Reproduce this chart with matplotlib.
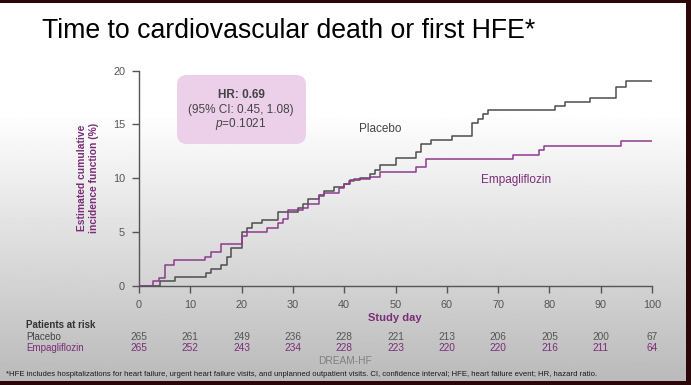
import numpy as np
import matplotlib.pyplot as plt
from matplotlib.patches import FancyBboxPatch
from matplotlib.transforms import IdentityTransform, blended_transform_factory

plt.rcParams['font.family'] = ['Liberation Sans', 'DejaVu Sans']
plt.rcParams['mathtext.fontset'] = 'custom'
plt.rcParams['mathtext.rm'] = 'Liberation Sans'
plt.rcParams['mathtext.it'] = 'Liberation Sans:italic'

# Step data (study day, cumulative incidence %)
placebo_days = [0, 4.1, 7, 13, 14, 16, 17.2, 18, 20, 21, 22, 24, 27, 31, 32, 33, 35, 36, 38,
                40, 41.2, 43, 45, 46, 47, 50, 54, 55, 57, 61, 65, 66, 67, 68, 81, 83, 88, 93, 95, 100]
placebo_vals = [0, 0.4, 0.8, 1.15, 1.6, 1.95, 2.67, 3.5, 5.0, 5.4, 5.8, 6.1, 6.9, 7.2, 7.6, 8.05, 8.4, 8.8, 9.2,
                9.5, 9.8, 10.0, 10.4, 10.8, 11.2, 11.9, 12.4, 13.2, 13.55, 13.95, 15.1, 15.5, 16.0, 16.3,
                16.7, 17.1, 17.5, 18.5, 19.0, 19.0]

empa_days = [0, 2.8, 3.9, 5, 6.9, 12.8, 14, 16, 20, 21, 25, 27, 28, 29, 32, 33, 35, 36, 39, 40,
             41, 42, 45, 47, 54, 56, 73, 78, 79, 94, 100]
empa_vals = [0, 0.4, 0.71, 1.9, 2.36, 2.67, 3.1, 3.9, 4.65, 5.0, 5.4, 5.86, 6.2, 7.0, 7.2, 7.6, 8.3, 8.6, 9.05, 9.5,
             9.7, 9.9, 10.1, 10.6, 11.0, 11.8, 12.2, 12.6, 13.0, 13.5, 13.5]

# Patients at risk table
risk_days = [0, 10, 20, 30, 40, 50, 60, 70, 80, 90, 100]
risk_placebo = [265, 261, 249, 236, 228, 221, 213, 206, 205, 200, 67]
risk_empa = [265, 252, 243, 234, 228, 223, 220, 220, 216, 211, 64]

W, H = 691, 385
gray = '#4d4d4d'
purple = '#8e3b8e'
purple_txt = '#7b2d78'
tick_col = '#555555'

fig = plt.figure(figsize=(W / 100, H / 100), dpi=100, facecolor='#2b0709')

# slide background with gradient
bg = fig.add_axes([0, 4 / H, 686 / W, 378 / H])
bg.set_axis_off()
ys = np.linspace(0, 378, 400)
shade = np.where(ys < 110, 1.0, 1.0 - (ys - 110) / (378 - 110) * 0.27)
bg.imshow(shade[:, None], cmap='gray', vmin=0, vmax=1, aspect='auto', extent=[0, 1, 0, 1])

def px(x, y):
    return x / W, 1 - y / H

# main axes
ax = fig.add_axes([139 / W, 1 - 285.7 / H, (652 - 139) / W, (285.7 - 70.7) / H])
ax.patch.set_alpha(0)
ax.step(placebo_days, placebo_vals, where='post', color=gray, lw=1.1, zorder=3)
ax.step(empa_days, empa_vals, where='post', color=purple, lw=1.1, zorder=4)
ax.set_xlim(0, 100)
ax.set_ylim(0, 20)
ax.set_xticks(risk_days)
ax.set_yticks([0, 5, 10, 15, 20])
for s in ['top', 'right']:
    ax.spines[s].set_visible(False)
for s in ['left', 'bottom']:
    ax.spines[s].set_color(tick_col)
    ax.spines[s].set_linewidth(1.0)
ax.tick_params(colors=tick_col, labelsize=7.8, length=5, width=1.0, pad=5)

ax.text(47, 14.6, 'Placebo', color='#444444', fontsize=8.5, ha='center', va='center')
ax.text(73.5, 9.8, 'Empagliflozin', color=purple_txt, fontsize=8.5, ha='center', va='center')

# HR box
box = FancyBboxPatch((177, H - 144), 129, 69, boxstyle='round,pad=0,rounding_size=10',
                     transform=IdentityTransform(), fc='#ecd0ea', ec='none', zorder=1)
fig.patches.append(box)
fig.text(*px(241, 95), 'HR: 0.69', fontsize=8.5, fontweight='bold', color='#444444', ha='center', va='center')
fig.text(*px(241, 110), '(95% CI: 0.45, 1.08)', fontsize=8.5, color='#444444', ha='center', va='center')
fig.text(*px(241, 124), '$p$=0.1021', fontsize=8.5, color='#444444', ha='center', va='center')

# y label
fig.text(*px(88, 178), 'Estimated cumulative\nincidence function (%)', rotation=90, fontsize=7.4,
         fontweight='bold', color=purple_txt, ha='center', va='center', linespacing=1.3)

# title
fig.text(*px(42, 31), 'Time to cardiovascular death or first HFE*', fontsize=19.2, color='black',
         ha='left', va='center')

# x label
fig.text(*px(395, 318), 'Study day', fontsize=8, fontweight='bold', color=purple_txt, ha='center', va='center')

# risk table
fig.text(*px(26, 325), 'Patients at risk', fontsize=7, fontweight='bold', color='#333333', ha='left', va='center')
fig.text(*px(26, 336.5), 'Placebo', fontsize=7, color='#444444', ha='left', va='center')
fig.text(*px(26, 348), 'Empagliflozin', fontsize=7, color=purple_txt, ha='left', va='center')
tr = blended_transform_factory(ax.transData, fig.transFigure)
for d, a, b in zip(risk_days, risk_placebo, risk_empa):
    fig.text(d, 1 - 336.5 / H, str(a), transform=tr, fontsize=7.3, color=tick_col, ha='center', va='center')
    fig.text(d, 1 - 348 / H, str(b), transform=tr, fontsize=7.3, color=purple_txt, ha='center', va='center')

fig.text(*px(345, 361.5), 'DREAM-HF', fontsize=7.3, color='#808080', ha='center', va='center')
fig.text(*px(6, 374.5), '*HFE includes hospitalizations for heart failure, urgent heart failure visits, and unplanned '
         'outpatient visits. CI, confidence interval; HFE, heart failure event; HR, hazard ratio.',
         fontsize=5.55, color='#1a1a1a', ha='left', va='center')

fig.savefig('out.png', dpi=100, facecolor=fig.get_facecolor())
